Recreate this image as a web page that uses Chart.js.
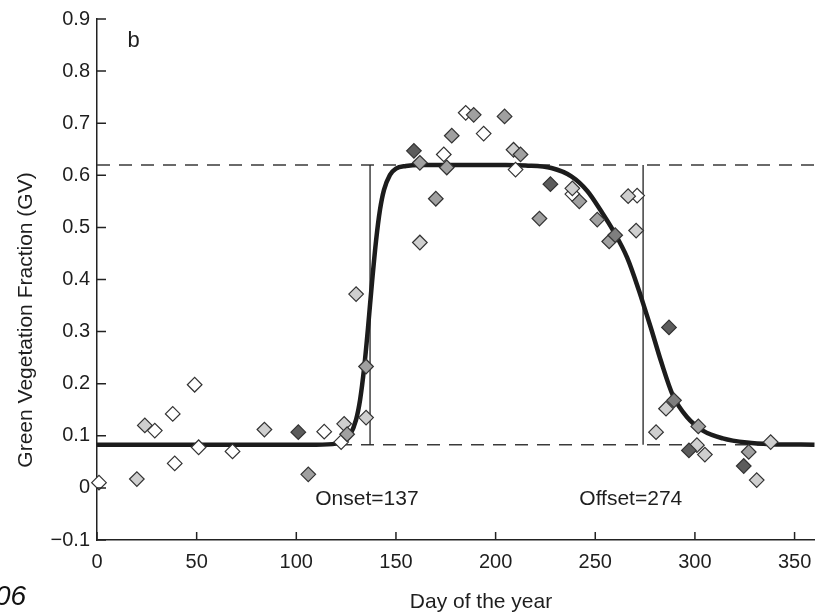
<!DOCTYPE html>
<html>
<head>
<meta charset="utf-8">
<script src="https://cdn.jsdelivr.net/npm/chart.js@4.4.1/dist/chart.umd.min.js"></script>
<style>
  html, body { margin: 0; padding: 0; background: #fff; }
  canvas { display: block; }
</style>
</head>
<body>
<canvas id="gvChart" width="823" height="613"></canvas>
<script>
// ----------------------------------------------------------------------
// Data (day of year / green vegetation fraction)
// ----------------------------------------------------------------------
const X_TICKS = [0, 50, 100, 150, 200, 250, 300, 350];
const Y_TICKS = [-0.1, 0, 0.1, 0.2, 0.3, 0.4, 0.5, 0.6, 0.7, 0.8, 0.9];
const Y_TICK_LABELS = ['\u22120.1', '0', '0.1', '0.2', '0.3', '0.4', '0.5', '0.6', '0.7', '0.8', '0.9'];

const BASE_GV = 0.083;
const PEAK_GV = 0.62;
const ONSET_DAY = 137;
const OFFSET_DAY = 274;
const LAST_DAY = 360;

// fitted curve
const CURVE_DAY = [0, 110, 120, 124, 127, 130, 132, 134, 136, 137, 138, 140, 142, 144, 147, 150, 155, 162,
                   205, 215, 228, 238, 246, 253, 259, 266, 272, 275, 278, 283, 289, 296, 304, 314, 326, 338, 360];
const CURVE_GV  = [0.083, 0.083, 0.085, 0.090, 0.102, 0.131, 0.169, 0.229, 0.308, 0.352, 0.395, 0.474, 0.534, 0.572, 0.601, 0.613, 0.618, 0.620,
                   0.620, 0.619, 0.614, 0.598, 0.570, 0.531, 0.494, 0.442, 0.378, 0.342, 0.306, 0.243, 0.177, 0.136, 0.110, 0.095, 0.087, 0.084, 0.083];

// observations, grouped by marker shade
const WHITE_DAY = [1, 29, 38, 39, 49, 51, 68, 114, 122.5, 174, 185, 194, 210, 238.5, 271];
const WHITE_GV  = [0.01, 0.11, 0.142, 0.047, 0.198, 0.078, 0.07, 0.108, 0.088, 0.64, 0.72, 0.68, 0.611, 0.564, 0.561];

const LIGHT_DAY = [20, 24, 84, 124, 130, 135, 162, 209, 238.5, 266.5, 270.5, 280.5, 285.5, 301, 305, 331, 338];
const LIGHT_GV  = [0.017, 0.12, 0.112, 0.123, 0.372, 0.135, 0.471, 0.649, 0.575, 0.56, 0.494, 0.107, 0.152, 0.082, 0.064, 0.015, 0.088];

const MID_DAY = [106, 125.5, 135, 162, 170, 175.5, 178, 189, 204.5, 212.5, 222, 242, 251, 257, 301.7, 327];
const MID_GV  = [0.026, 0.103, 0.233, 0.624, 0.555, 0.615, 0.676, 0.716, 0.713, 0.64, 0.517, 0.55, 0.515, 0.473, 0.118, 0.069];

const MIDDARK_DAY = [260, 289.5];
const MIDDARK_GV  = [0.485, 0.168];

const DARK_DAY = [101, 159, 227.5, 287, 297, 324.5];
const DARK_GV  = [0.107, 0.647, 0.583, 0.308, 0.072, 0.042];

// ----------------------------------------------------------------------
const FONT = '"Liberation Sans", Arial, Helvetica, sans-serif';
const INK = '#1e1e1e';

function pts(days, vals) {
  return days.map((d, i) => ({ x: d, y: vals[i] }));
}

function diamonds(days, vals, fill) {
  return {
    data: pts(days, vals),
    showLine: false,
    pointStyle: 'rectRot',
    pointRadius: 7.3,
    pointBorderWidth: 1.2,
    pointBorderColor: '#333',
    pointBackgroundColor: fill,
    clip: false
  };
}

function segment(data, width, color, dash) {
  return {
    data,
    showLine: true,
    pointRadius: 0,
    borderWidth: width,
    borderColor: color,
    borderDash: dash || [],
    clip: false
  };
}

// inward ticks + free text
const decorPlugin = {
  id: 'decor',
  afterDraw(chart) {
    const { ctx, chartArea: a, scales: { x, y } } = chart;
    ctx.save();

    ctx.strokeStyle = '#222';
    ctx.lineWidth = 1.5;
    ctx.beginPath();
    Y_TICKS.forEach(v => {
      const py = y.getPixelForValue(v);
      ctx.moveTo(a.left, py);
      ctx.lineTo(a.left + 9, py);
    });
    X_TICKS.forEach(v => {
      const px = x.getPixelForValue(v);
      ctx.moveTo(px, a.bottom);
      ctx.lineTo(px, a.bottom - 8);
    });
    ctx.stroke();

    ctx.fillStyle = INK;
    ctx.textAlign = 'left';
    ctx.textBaseline = 'middle';
    ctx.font = '21px ' + FONT;
    ctx.fillText('Onset=' + ONSET_DAY, x.getPixelForValue(109.5), y.getPixelForValue(-0.022));
    ctx.fillText('Offset=' + OFFSET_DAY, x.getPixelForValue(242), y.getPixelForValue(-0.022));

    ctx.textBaseline = 'alphabetic';
    ctx.font = '22px ' + FONT;
    ctx.fillText('b', x.getPixelForValue(15.3), y.getPixelForValue(0.847));

    // x title
    ctx.textAlign = 'center';
    ctx.font = '21px ' + FONT;
    ctx.fillText('Day of the year', 481, 608);

    // y title
    ctx.save();
    ctx.translate(32, 320);
    ctx.rotate(-Math.PI / 2);
    ctx.fillText('Green Vegetation Fraction (GV)', 0, 0);
    ctx.restore();

    // clipped caption from neighbouring text
    ctx.textAlign = 'left';
    ctx.font = 'italic 28px ' + FONT;
    ctx.fillStyle = '#111';
    ctx.fillText('06', -5, 605);

    ctx.restore();
  }
};

const ctx = document.getElementById('gvChart').getContext('2d');

new Chart(ctx, {
  type: 'scatter',
  data: {
    datasets: [
      diamonds(DARK_DAY, DARK_GV, '#5c5c5c'),
      diamonds(MIDDARK_DAY, MIDDARK_GV, '#7e7e7e'),
      diamonds(MID_DAY, MID_GV, '#a0a0a0'),
      diamonds(LIGHT_DAY, LIGHT_GV, '#cfcfcf'),
      diamonds(WHITE_DAY, WHITE_GV, '#ffffff'),
      Object.assign(segment(pts(CURVE_DAY, CURVE_GV), 4.5, '#1c1c1c'), { cubicInterpolationMode: 'monotone' }),
      segment([{ x: ONSET_DAY, y: BASE_GV }, { x: ONSET_DAY, y: PEAK_GV }], 1.3, '#222'),
      segment([{ x: OFFSET_DAY, y: BASE_GV }, { x: OFFSET_DAY, y: PEAK_GV }], 1.3, '#222'),
      segment([{ x: 0, y: PEAK_GV }, { x: LAST_DAY, y: PEAK_GV }], 1.5, '#3a3a3a', [13, 9]),
      segment([{ x: 0, y: BASE_GV }, { x: LAST_DAY, y: BASE_GV }], 1.5, '#3a3a3a', [13, 9])
    ]
  },
  options: {
    responsive: false,
    animation: false,
    events: [],
    layout: { padding: { left: 0, right: 5, top: 17, bottom: 0 } },
    plugins: { legend: { display: false }, tooltip: { enabled: false } },
    scales: {
      x: {
        type: 'linear',
        min: 0,
        max: LAST_DAY,
        afterFit: s => { s.height = 73; },
        afterBuildTicks: s => { s.ticks = X_TICKS.map(v => ({ value: v })); },
        grid: { display: false, drawTicks: false },
        border: { display: true, color: '#222', width: 1.5 },
        ticks: { padding: 10, color: INK, font: { family: FONT, size: 20 }, maxRotation: 0 }
      },
      y: {
        type: 'linear',
        min: -0.1,
        max: 0.9,
        afterFit: s => { s.width = 97; },
        afterBuildTicks: s => { s.ticks = Y_TICKS.map(v => ({ value: v })); },
        grid: { display: false, drawTicks: false },
        border: { display: true, color: '#222', width: 1.5 },
        ticks: { padding: 7, color: INK, font: { family: FONT, size: 20 }, callback: (v, i) => Y_TICK_LABELS[i] }
      }
    }
  },
  plugins: [decorPlugin]
});
</script>
</body>
</html>
